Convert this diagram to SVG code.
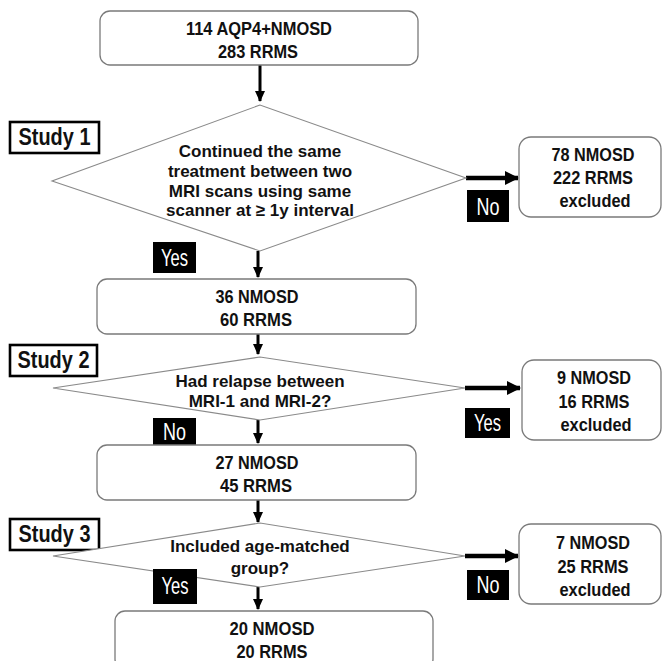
<svg xmlns="http://www.w3.org/2000/svg" width="662" height="661" viewBox="0 0 662 661">
<defs>
<style>
.box{fill:#fff;stroke:#7a7a7a;stroke-width:1.3}
.dia{fill:#fff;stroke:#8a8a8a;stroke-width:1.1}
.bt{font-family:"Liberation Sans Narrow","Liberation Sans",Arial,sans-serif;font-weight:bold;font-size:19px;fill:#111;text-anchor:middle}
.dt{font-family:"Liberation Sans",Arial,sans-serif;font-weight:bold;font-size:17px;fill:#111;text-anchor:middle}
.st{font-family:"Liberation Sans Narrow","Liberation Sans",Arial,sans-serif;font-weight:bold;font-size:23px;fill:#111;text-anchor:middle}
.sbox{fill:#fff;stroke:#000;stroke-width:2.6}
.lab{fill:#000}
.lt{font-family:"Liberation Sans Narrow","Liberation Sans",Arial,sans-serif;font-size:24px;fill:#fff;text-anchor:middle}
.vl{stroke:#000;stroke-width:3;fill:none}
.hl{stroke:#000;stroke-width:4.5;fill:none}
</style>
<marker id="av" markerUnits="userSpaceOnUse" markerWidth="12" markerHeight="12" refX="10" refY="5" orient="auto" viewBox="0 0 12 10">
<path d="M0,0 L11,5 L0,10 Z" fill="#000"/>
</marker>
<marker id="ah" markerUnits="userSpaceOnUse" markerWidth="14" markerHeight="14" refX="13" refY="7" orient="auto" viewBox="0 0 14 14">
<path d="M0,0 L14,7 L0,14 Z" fill="#000"/>
</marker>
</defs>

<g id="connectors">
<line class="vl" x1="260" y1="65" x2="260" y2="101" marker-end="url(#av)"/>
<line class="vl" x1="258" y1="251" x2="258" y2="277" marker-end="url(#av)"/>
<line class="vl" x1="258" y1="334" x2="258" y2="354" marker-end="url(#av)"/>
<line class="vl" x1="258" y1="420" x2="258" y2="443" marker-end="url(#av)"/>
<line class="vl" x1="258" y1="500" x2="258" y2="522" marker-end="url(#av)"/>
<line class="vl" x1="258" y1="587" x2="258" y2="609" marker-end="url(#av)"/>
<line class="hl" x1="466" y1="178" x2="518" y2="178" marker-end="url(#ah)"/>
<line class="hl" x1="465" y1="388" x2="520" y2="388" marker-end="url(#ah)"/>
<line class="hl" x1="465" y1="556" x2="518" y2="556" marker-end="url(#ah)"/>
</g>

<g id="start">
<rect class="box" x="100" y="11" width="318" height="54" rx="10"/>
<text class="bt" x="259" y="35" textLength="146" lengthAdjust="spacingAndGlyphs">114 AQP4+NMOSD</text>
<text class="bt" x="258" y="58" textLength="80" lengthAdjust="spacingAndGlyphs">283 RRMS</text>
</g>

<g id="study1-label">
<rect class="sbox" x="10" y="122" width="89" height="31"/>
<text class="st" x="54.5" y="145" textLength="72" lengthAdjust="spacingAndGlyphs">Study 1</text>
</g>

<g id="decision1">
<polygon class="dia" points="260,105 52,181 260,251 466,178"/>
<text class="dt" x="260" y="157">Continued the same</text>
<text class="dt" x="260" y="177">treatment between two</text>
<text class="dt" x="260" y="197">MRI scans using same</text>
<text class="dt" x="260" y="216">scanner at ≥ 1y interval</text>
</g>

<g id="excl1">
<rect class="box" x="519" y="137" width="142" height="80" rx="12"/>
<text class="bt" x="593" y="161" textLength="83" lengthAdjust="spacingAndGlyphs">78 NMOSD</text>
<text class="bt" x="593" y="184" textLength="80" lengthAdjust="spacingAndGlyphs">222 RRMS</text>
<text class="bt" x="595" y="207" textLength="71" lengthAdjust="spacingAndGlyphs">excluded</text>
</g>

<g id="label-no1">
<rect class="lab" x="467" y="190" width="42" height="32"/>
<text class="lt" x="488" y="215" textLength="23" lengthAdjust="spacingAndGlyphs">No</text>
</g>

<g id="label-yes1">
<rect class="lab" x="153" y="242" width="43" height="31"/>
<text class="lt" x="174.5" y="266" textLength="27" lengthAdjust="spacingAndGlyphs">Yes</text>
</g>

<g id="n36">
<rect class="box" x="97" y="279" width="319" height="55" rx="10"/>
<text class="bt" x="257" y="303" textLength="83" lengthAdjust="spacingAndGlyphs">36 NMOSD</text>
<text class="bt" x="256" y="326" textLength="72" lengthAdjust="spacingAndGlyphs">60 RRMS</text>
</g>

<g id="study2-label">
<rect class="sbox" x="10" y="345" width="87" height="31"/>
<text class="st" x="53.5" y="368" textLength="72" lengthAdjust="spacingAndGlyphs">Study 2</text>
</g>

<g id="decision2">
<polygon class="dia" points="260,357 53,388 260,420 465,388"/>
<text class="dt" x="260" y="387">Had relapse between</text>
<text class="dt" x="260" y="407">MRI-1 and MRI-2?</text>
</g>

<g id="excl2">
<rect class="box" x="522" y="360" width="139" height="80" rx="12"/>
<text class="bt" x="594" y="384" textLength="74" lengthAdjust="spacingAndGlyphs">9 NMOSD</text>
<text class="bt" x="594" y="408" textLength="71" lengthAdjust="spacingAndGlyphs">16 RRMS</text>
<text class="bt" x="596" y="431" textLength="71" lengthAdjust="spacingAndGlyphs">excluded</text>
</g>

<g id="label-yes2">
<rect class="lab" x="465" y="408" width="45" height="30"/>
<text class="lt" x="487.5" y="431" textLength="27" lengthAdjust="spacingAndGlyphs">Yes</text>
</g>

<g id="label-no2">
<rect class="lab" x="153" y="418" width="43" height="28"/>
<text class="lt" x="174.5" y="440" textLength="23" lengthAdjust="spacingAndGlyphs">No</text>
</g>

<g id="n27">
<rect class="box" x="97" y="445" width="319" height="55" rx="10"/>
<text class="bt" x="257" y="469" textLength="83" lengthAdjust="spacingAndGlyphs">27 NMOSD</text>
<text class="bt" x="256" y="492" textLength="72" lengthAdjust="spacingAndGlyphs">45 RRMS</text>
</g>

<g id="study3-label">
<rect class="sbox" x="10" y="519" width="89" height="31"/>
<text class="st" x="54.5" y="542" textLength="72" lengthAdjust="spacingAndGlyphs">Study 3</text>
</g>

<g id="decision3">
<polygon class="dia" points="260,523 53,556 260,587 465,556"/>
<text class="dt" x="260" y="552">Included age-matched</text>
<text class="dt" x="260" y="574">group?</text>
</g>

<g id="excl3">
<rect class="box" x="519" y="524" width="142" height="80" rx="12"/>
<text class="bt" x="593" y="549" textLength="74" lengthAdjust="spacingAndGlyphs">7 NMOSD</text>
<text class="bt" x="593" y="573" textLength="71" lengthAdjust="spacingAndGlyphs">25 RRMS</text>
<text class="bt" x="595" y="596" textLength="71" lengthAdjust="spacingAndGlyphs">excluded</text>
</g>

<g id="label-no3">
<rect class="lab" x="467" y="570" width="42" height="30"/>
<text class="lt" x="488" y="593" textLength="23" lengthAdjust="spacingAndGlyphs">No</text>
</g>

<g id="label-yes3">
<rect class="lab" x="153" y="569" width="44" height="35"/>
<text class="lt" x="175" y="594" textLength="27" lengthAdjust="spacingAndGlyphs">Yes</text>
</g>

<g id="final">
<rect class="box" x="115" y="611" width="318" height="58" rx="10"/>
<text class="bt" x="272" y="635" textLength="85" lengthAdjust="spacingAndGlyphs">20 NMOSD</text>
<text class="bt" x="272" y="658" textLength="71" lengthAdjust="spacingAndGlyphs">20 RRMS</text>
</g>
</svg>
